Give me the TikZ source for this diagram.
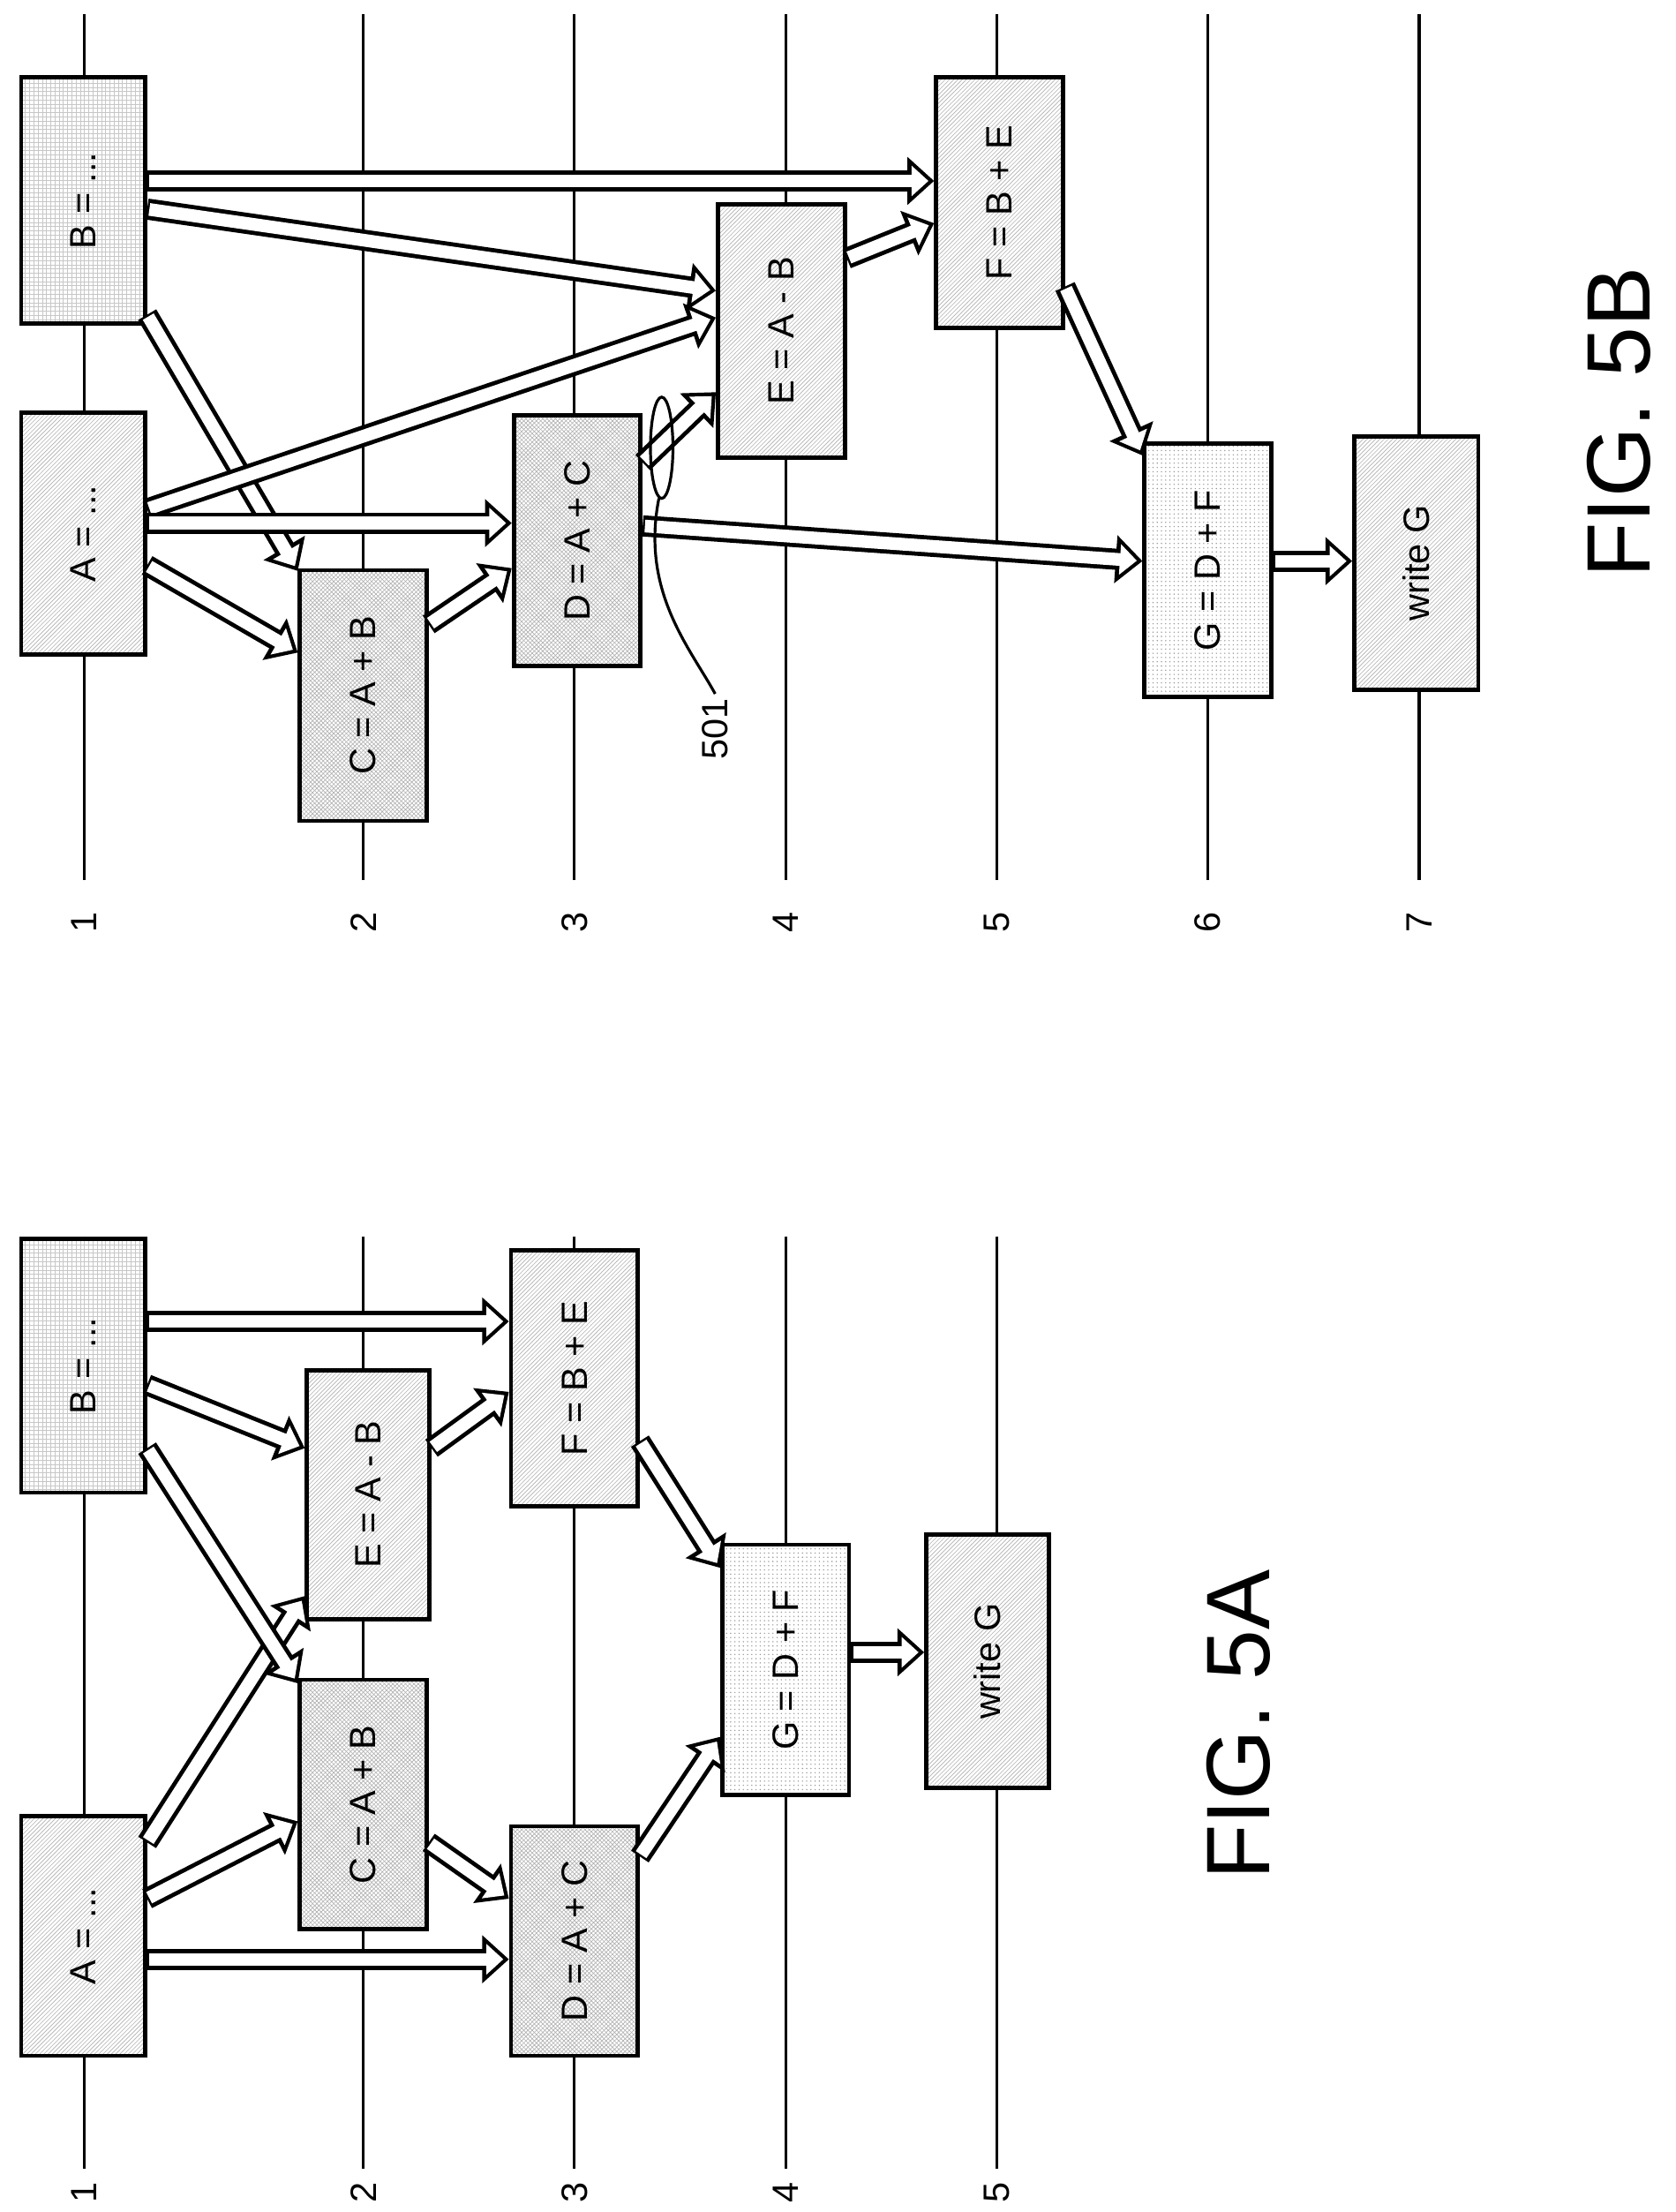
\documentclass[tikz,border=0pt]{standalone}
\usepackage{fontspec}
\setmainfont{Liberation Sans}
\usetikzlibrary{patterns,arrows.meta,calc}
\begin{document}
\begin{tikzpicture}[x=1pt,y=-1pt,
  lvl/.style={line width=2pt},
  box/.style={draw,line width=3pt,inner sep=0pt,preaction={fill=white},font=\fontsize{26}{28}\selectfont},
  pA/.style={pattern=north east lines,pattern color=black!30},
  pB/.style={pattern=grid,pattern color=black!22},
  pC/.style={pattern=crosshatch,pattern color=black!30},
  pG/.style={pattern=dots,pattern color=black!40},
  fat/.style={line width=15pt,draw=black,-{Triangle[length=19pt,width=33pt]},
    postaction={draw=white,line width=9pt,-{Triangle[length=12pt,width=21pt]},shorten >=4pt,shorten <=1.6pt}},
  num/.style={font=\fontsize{26}{28}\selectfont,rotate=90},
  fig/.style={font=\fontsize{64}{68}\selectfont,rotate=90}]
\useasboundingbox (0,0) rectangle (1190,1571);
\newcommand\bx[7]{\node[box,#7,minimum width=#3-#2,minimum height=#5-#4] (#1) at ({(#2+#3)/2},{(#4+#5)/2}) {\rotatebox{90}{#6}};}
\newcommand\fa[4]{\draw[fat] ($(#1)+(0,#2)$) -- ($(#3)+(0,#4)$);}
\foreach \x/\n in {60/1,258/2,408/3,558/4,708/5}{
  \draw[lvl] (\x,878) -- (\x,1540);
  \node[num] (na\n) at (\x,1557) {\n};}
\foreach \x/\n in {60/1,258/2,408/3,558/4,708/5,858/6,1008/7}{
  \draw[lvl] (\x,10) -- (\x,625);
  \node[num] (nb\n) at (\x,655) {\n};}
\bx{aA}{15}{103}{1290}{1460}{A = ...}{pA}
\bx{aB}{15}{103}{880}{1060}{B = ...}{pB}
\bx{aC}{213}{303}{1193}{1370}{C = A + B}{pC}
\bx{aE}{218}{305}{973}{1150}{E = A - B}{pA}
\bx{aD}{363}{453}{1297}{1460}{D = A + C}{pC}
\bx{aF}{363}{453}{888}{1070}{F = B + E}{pA}
\bx{aG}{513}{603}{1097}{1275}{G = D + F}{pG}
\bx{aW}{658}{745}{1090}{1270}{write G}{pA}
\fa{aA.north east}{103}{aD.north west}{96}
\fa{aA.north east}{60}{aC.north west}{102}
\fa{aA.north east}{20}{aE.north west}{162}
\fa{aB.north east}{60}{aF.north west}{52}
\fa{aB.north east}{105}{aE.north west}{57}
\fa{aB.north east}{150}{aC.north west}{4}
\fa{aC.north east}{117}{aD.north west}{53}
\fa{aE.north east}{57}{aF.north west}{102}
\fa{aF.north east}{137}{aG.north west}{18}
\fa{aD.north east}{23}{aG.north west}{138}
\fa{aG.north east}{78}{aW.north west}{85}
\node[fig] (f5a) at (880,1225) {FIG. 5A};
\bx{bA}{15}{103}{293}{465}{A = ...}{pA}
\bx{bB}{15}{103}{55}{230}{B = ...}{pB}
\bx{bC}{213}{303}{405}{583}{C = A + B}{pC}
\bx{bD}{365}{455}{295}{473}{D = A + C}{pC}
\bx{bE}{510}{600}{145}{325}{E = A - B}{pA}
\bx{bF}{665}{755}{55}{233}{F = B + E}{pA}
\bx{bG}{813}{903}{315}{495}{G = D + F}{pG}
\bx{bW}{962}{1050}{310}{490}{write G}{pA}
\fa{bB.north east}{75}{bF.north west}{75}
\fa{bB.north east}{95}{bE.north west}{63}
\fa{bB.north east}{170}{bC.north west}{2}
\fa{bA.north east}{70}{bE.north west}{82}
\fa{bA.north east}{80}{bD.north west}{78}
\fa{bA.north east}{110}{bC.north west}{60}
\fa{bC.north east}{40}{bD.north west}{110}
\fa{bD.north east}{35}{bE.north west}{135}
\fa{bD.north east}{80}{bG.north west}{85}
\fa{bE.north east}{40}{bF.north west}{105}
\fa{bF.north east}{150}{bG.north west}{10}
\fa{bG.north east}{85}{bW.north west}{90}
\draw[line width=2pt] (470,318) ellipse (8 and 36);
\coordinate (e501) at (468,354);
\node[num] (l501) at (508,518) {501};
\draw[line width=2pt] (e501) .. controls (455,420) and (490,460) .. (l501.east);
\node[fig] (f5b) at (1150,300) {FIG. 5B};
\end{tikzpicture}
\end{document}
